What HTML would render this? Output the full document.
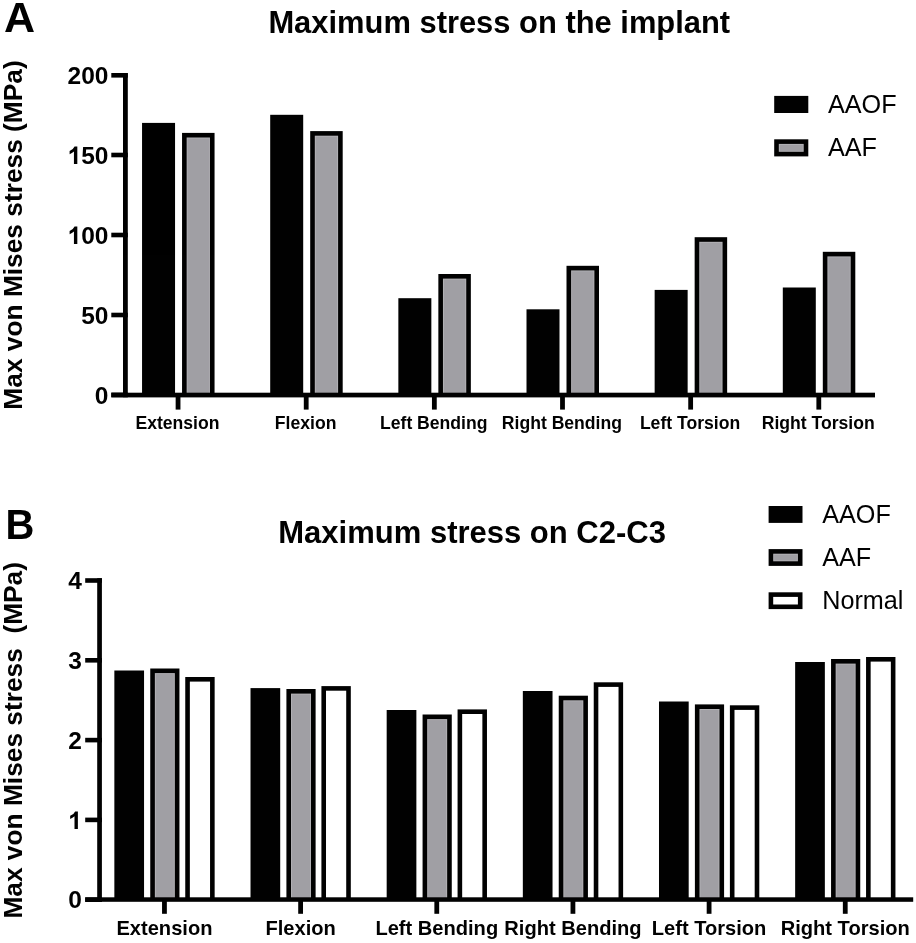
<!DOCTYPE html>
<html><head><meta charset="utf-8"><style>
html,body{margin:0;padding:0;background:#fff;}
svg{display:block;will-change:opacity;opacity:0.999;}
text{font-family:"Liberation Sans",sans-serif;fill:#000;}
</style></head><body>
<svg width="916" height="943" viewBox="0 0 916 943">
<text x="4.00" y="32.20" font-size="43" font-weight="bold" text-anchor="start" >A</text>
<text x="268.40" y="33.20" font-size="30.9" font-weight="bold" text-anchor="start" >Maximum stress on the implant</text>
<text transform="translate(22.3,235) rotate(-90)" x="0" y="0" font-size="26.3" font-weight="bold" text-anchor="middle">Max von Mises stress (MPa)</text>
<rect x="142.05" y="122.90" width="33.00" height="272.10" fill="#000"/>
<rect x="182.05" y="132.90" width="32.50" height="262.10" fill="#000"/>
<rect x="186.65" y="137.50" width="23.30" height="257.50" fill="#b2b1b5"/>
<rect x="187.65" y="138.50" width="21.30" height="256.50" fill="#a09fa4"/>
<rect x="270.20" y="114.80" width="33.00" height="280.20" fill="#000"/>
<rect x="310.20" y="131.10" width="32.50" height="263.90" fill="#000"/>
<rect x="314.80" y="135.70" width="23.30" height="259.30" fill="#b2b1b5"/>
<rect x="315.80" y="136.70" width="21.30" height="258.30" fill="#a09fa4"/>
<rect x="398.35" y="298.20" width="33.00" height="96.80" fill="#000"/>
<rect x="438.35" y="274.00" width="32.50" height="121.00" fill="#000"/>
<rect x="442.95" y="278.60" width="23.30" height="116.40" fill="#b2b1b5"/>
<rect x="443.95" y="279.60" width="21.30" height="115.40" fill="#a09fa4"/>
<rect x="526.50" y="309.30" width="33.00" height="85.70" fill="#000"/>
<rect x="566.50" y="265.80" width="32.50" height="129.20" fill="#000"/>
<rect x="571.10" y="270.40" width="23.30" height="124.60" fill="#b2b1b5"/>
<rect x="572.10" y="271.40" width="21.30" height="123.60" fill="#a09fa4"/>
<rect x="654.65" y="289.90" width="33.00" height="105.10" fill="#000"/>
<rect x="694.65" y="237.20" width="32.50" height="157.80" fill="#000"/>
<rect x="699.25" y="241.80" width="23.30" height="153.20" fill="#b2b1b5"/>
<rect x="700.25" y="242.80" width="21.30" height="152.20" fill="#a09fa4"/>
<rect x="782.80" y="287.50" width="33.00" height="107.50" fill="#000"/>
<rect x="822.80" y="251.80" width="32.50" height="143.20" fill="#000"/>
<rect x="827.40" y="256.40" width="23.30" height="138.60" fill="#b2b1b5"/>
<rect x="828.40" y="257.40" width="21.30" height="137.60" fill="#a09fa4"/>
<rect x="123.00" y="73.10" width="4.80" height="324.10" fill="#000"/>
<rect x="111.30" y="392.70" width="763.70" height="4.70" fill="#000"/>
<rect x="111.30" y="73.00" width="16.50" height="4.60" fill="#000"/>
<text x="67.62" y="83.90" font-size="24.5" font-weight="bold" text-anchor="start" >2</text>
<text x="81.25" y="83.90" font-size="24.5" font-weight="bold" text-anchor="start" >0</text>
<text x="94.87" y="83.90" font-size="24.5" font-weight="bold" text-anchor="start" >0</text>
<rect x="111.30" y="152.70" width="16.50" height="4.60" fill="#000"/>
<path d="M77.32,164.10 L73.94,164.10 L73.94,151.43 Q72.03,153.07 69.61,154.18 L69.61,150.92 Q73.26,149.64 74.58,146.56 L77.32,146.56 Z" fill="#000"/>
<text x="81.25" y="163.60" font-size="24.5" font-weight="bold" text-anchor="start" >5</text>
<text x="94.87" y="163.60" font-size="24.5" font-weight="bold" text-anchor="start" >0</text>
<rect x="111.30" y="232.70" width="16.50" height="4.60" fill="#000"/>
<path d="M77.32,244.10 L73.94,244.10 L73.94,231.43 Q72.03,233.07 69.61,234.18 L69.61,230.92 Q73.26,229.64 74.58,226.56 L77.32,226.56 Z" fill="#000"/>
<text x="81.25" y="243.60" font-size="24.5" font-weight="bold" text-anchor="start" >0</text>
<text x="94.87" y="243.60" font-size="24.5" font-weight="bold" text-anchor="start" >0</text>
<rect x="111.30" y="312.70" width="16.50" height="4.60" fill="#000"/>
<text x="81.25" y="323.60" font-size="24.5" font-weight="bold" text-anchor="start" >5</text>
<text x="94.87" y="323.60" font-size="24.5" font-weight="bold" text-anchor="start" >0</text>
<rect x="111.30" y="392.60" width="16.50" height="4.60" fill="#000"/>
<text x="94.87" y="403.50" font-size="24.5" font-weight="bold" text-anchor="start" >0</text>
<rect x="175.65" y="394.00" width="4.80" height="15.60" fill="#000"/>
<text x="177.45" y="428.90" font-size="17.6" font-weight="bold" text-anchor="middle" >Extension</text>
<rect x="303.80" y="394.00" width="4.80" height="15.60" fill="#000"/>
<text x="305.60" y="428.90" font-size="17.6" font-weight="bold" text-anchor="middle" >Flexion</text>
<rect x="431.95" y="394.00" width="4.80" height="15.60" fill="#000"/>
<text x="433.75" y="428.90" font-size="17.6" font-weight="bold" text-anchor="middle" >Left Bending</text>
<rect x="560.10" y="394.00" width="4.80" height="15.60" fill="#000"/>
<text x="561.90" y="428.90" font-size="17.6" font-weight="bold" text-anchor="middle" >Right Bending</text>
<rect x="688.25" y="394.00" width="4.80" height="15.60" fill="#000"/>
<text x="690.05" y="428.90" font-size="17.6" font-weight="bold" text-anchor="middle" >Left Torsion</text>
<rect x="816.40" y="394.00" width="4.80" height="15.60" fill="#000"/>
<text x="818.20" y="428.90" font-size="17.6" font-weight="bold" text-anchor="middle" >Right Torsion</text>
<rect x="774.20" y="95.90" width="34.10" height="17.10" fill="#000"/>
<rect x="774.20" y="139.30" width="34.10" height="17.10" fill="#000"/>
<rect x="778.80" y="143.90" width="24.90" height="7.90" fill="#b2b1b5"/>
<rect x="779.80" y="144.90" width="22.90" height="5.90" fill="#a09fa4"/>
<text x="828.00" y="113.00" font-size="25.2" font-weight="normal" text-anchor="start" >AAOF</text>
<text x="828.00" y="156.30" font-size="25.2" font-weight="normal" text-anchor="start" >AAF</text>
<text transform="translate(5.6,538.9) scale(0.93,1)" x="0" y="0" font-size="43" font-weight="bold">B</text>
<text x="278.30" y="542.50" font-size="31" font-weight="bold" text-anchor="start" >Maximum stress on C2-C3</text>
<text transform="translate(22.3,740.3) rotate(-90)" x="0" y="0" font-size="26.3" font-weight="bold" text-anchor="middle" xml:space="preserve">Max von Mises stress  (MPa)</text>
<rect x="114.35" y="670.50" width="29.70" height="229.50" fill="#000"/>
<rect x="150.25" y="668.50" width="29.20" height="231.50" fill="#000"/>
<rect x="154.85" y="673.10" width="20.00" height="226.90" fill="#b2b1b5"/>
<rect x="155.85" y="674.10" width="18.00" height="225.90" fill="#a09fa4"/>
<rect x="185.25" y="677.00" width="29.40" height="223.00" fill="#000"/>
<rect x="189.85" y="681.60" width="20.20" height="218.40" fill="#fff"/>
<rect x="250.51" y="688.10" width="29.70" height="211.90" fill="#000"/>
<rect x="286.41" y="689.00" width="29.20" height="211.00" fill="#000"/>
<rect x="291.01" y="693.60" width="20.00" height="206.40" fill="#b2b1b5"/>
<rect x="292.01" y="694.60" width="18.00" height="205.40" fill="#a09fa4"/>
<rect x="321.41" y="686.10" width="29.40" height="213.90" fill="#000"/>
<rect x="326.01" y="690.70" width="20.20" height="209.30" fill="#fff"/>
<rect x="386.67" y="710.00" width="29.70" height="190.00" fill="#000"/>
<rect x="422.57" y="714.50" width="29.20" height="185.50" fill="#000"/>
<rect x="427.17" y="719.10" width="20.00" height="180.90" fill="#b2b1b5"/>
<rect x="428.17" y="720.10" width="18.00" height="179.90" fill="#a09fa4"/>
<rect x="457.57" y="709.40" width="29.40" height="190.60" fill="#000"/>
<rect x="462.17" y="714.00" width="20.20" height="186.00" fill="#fff"/>
<rect x="522.83" y="691.00" width="29.70" height="209.00" fill="#000"/>
<rect x="558.73" y="695.70" width="29.20" height="204.30" fill="#000"/>
<rect x="563.33" y="700.30" width="20.00" height="199.70" fill="#b2b1b5"/>
<rect x="564.33" y="701.30" width="18.00" height="198.70" fill="#a09fa4"/>
<rect x="593.73" y="682.30" width="29.40" height="217.70" fill="#000"/>
<rect x="598.33" y="686.90" width="20.20" height="213.10" fill="#fff"/>
<rect x="658.99" y="701.50" width="29.70" height="198.50" fill="#000"/>
<rect x="694.89" y="704.40" width="29.20" height="195.60" fill="#000"/>
<rect x="699.49" y="709.00" width="20.00" height="191.00" fill="#b2b1b5"/>
<rect x="700.49" y="710.00" width="18.00" height="190.00" fill="#a09fa4"/>
<rect x="729.89" y="705.30" width="29.40" height="194.70" fill="#000"/>
<rect x="734.49" y="709.90" width="20.20" height="190.10" fill="#fff"/>
<rect x="795.15" y="662.00" width="29.70" height="238.00" fill="#000"/>
<rect x="831.05" y="659.00" width="29.20" height="241.00" fill="#000"/>
<rect x="835.65" y="663.60" width="20.00" height="236.40" fill="#b2b1b5"/>
<rect x="836.65" y="664.60" width="18.00" height="235.40" fill="#a09fa4"/>
<rect x="866.05" y="657.00" width="29.40" height="243.00" fill="#000"/>
<rect x="870.65" y="661.60" width="20.20" height="238.40" fill="#fff"/>
<rect x="97.20" y="578.20" width="4.70" height="323.70" fill="#000"/>
<rect x="85.20" y="897.30" width="828.00" height="4.50" fill="#000"/>
<rect x="85.20" y="578.20" width="16.70" height="4.60" fill="#000"/>
<text x="68.17" y="589.10" font-size="24.5" font-weight="bold" text-anchor="start" >4</text>
<rect x="85.20" y="658.00" width="16.70" height="4.60" fill="#000"/>
<text x="68.17" y="668.90" font-size="24.5" font-weight="bold" text-anchor="start" >3</text>
<rect x="85.20" y="737.80" width="16.70" height="4.60" fill="#000"/>
<text x="68.17" y="748.70" font-size="24.5" font-weight="bold" text-anchor="start" >2</text>
<rect x="85.20" y="817.60" width="16.70" height="4.60" fill="#000"/>
<path d="M77.88,829.00 L74.50,829.00 L74.50,816.33 Q72.58,817.98 70.16,819.08 L70.16,815.82 Q73.81,814.54 75.13,811.46 L77.88,811.46 Z" fill="#000"/>
<rect x="85.20" y="897.40" width="16.70" height="4.60" fill="#000"/>
<text x="68.17" y="908.30" font-size="24.5" font-weight="bold" text-anchor="start" >0</text>
<rect x="162.05" y="899.00" width="4.80" height="14.80" fill="#000"/>
<text x="164.45" y="935.30" font-size="20.1" font-weight="bold" text-anchor="middle" >Extension</text>
<rect x="298.21" y="899.00" width="4.80" height="14.80" fill="#000"/>
<text x="300.61" y="935.30" font-size="20.1" font-weight="bold" text-anchor="middle" >Flexion</text>
<rect x="434.37" y="899.00" width="4.80" height="14.80" fill="#000"/>
<text x="436.77" y="935.30" font-size="20.1" font-weight="bold" text-anchor="middle" >Left Bending</text>
<rect x="570.53" y="899.00" width="4.80" height="14.80" fill="#000"/>
<text x="572.93" y="935.30" font-size="20.1" font-weight="bold" text-anchor="middle" >Right Bending</text>
<rect x="706.69" y="899.00" width="4.80" height="14.80" fill="#000"/>
<text x="709.09" y="935.30" font-size="20.1" font-weight="bold" text-anchor="middle" >Left Torsion</text>
<rect x="842.85" y="899.00" width="4.80" height="14.80" fill="#000"/>
<text x="845.25" y="935.30" font-size="20.1" font-weight="bold" text-anchor="middle" >Right Torsion</text>
<rect x="768.60" y="506.00" width="33.90" height="16.90" fill="#000"/>
<rect x="768.60" y="549.10" width="33.90" height="16.80" fill="#000"/>
<rect x="773.20" y="553.70" width="24.70" height="7.60" fill="#b2b1b5"/>
<rect x="774.20" y="554.70" width="22.70" height="5.60" fill="#a09fa4"/>
<rect x="768.60" y="592.30" width="33.90" height="16.80" fill="#000"/>
<rect x="773.20" y="596.90" width="24.70" height="7.60" fill="#fff"/>
<text x="822.20" y="523.00" font-size="25.2" font-weight="normal" text-anchor="start" >AAOF</text>
<text x="822.20" y="566.10" font-size="25.2" font-weight="normal" text-anchor="start" >AAF</text>
<text x="822.20" y="609.20" font-size="25.2" font-weight="normal" text-anchor="start" >Normal</text>
</svg>
</body></html>
